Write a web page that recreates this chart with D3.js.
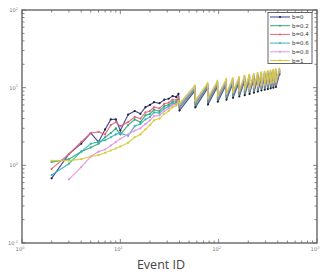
<!DOCTYPE html>
<html><head><meta charset="utf-8">
<script src="https://cdn.jsdelivr.net/npm/d3@7"></script>
<style>body{margin:0;background:#fff}svg{display:block}</style>
</head><body>
<script>
const events = [2,3,4,5,6,7,8,9,10,12,14,16,18,20,22,25,28,31,34,37,39,
  40,57,58,77,78,97,98,119,120,139,140,161,162,183,184,205,206,227,228,249,250,271,272,293,294,315,316,337,338,359,360,381,382,415];
const seriesNames = ["b=0","b=0.2","b=0.4","b=0.6","b=0.8","b=1"];
const b0 = [0.68,1.4,1.9,2.6,2.0,2.9,3.9,3.9,2.8,4.5,5.0,4.6,5.6,6.0,6.5,6.3,7.0,7.2,7.8,7.6,8.3,
  5.1,9.0,5.6,9.8,6.1,10.3,6.6,10.9,7.0,11.3,7.4,11.7,7.7,12.1,8.0,12.5,8.3,12.8,8.6,13.1,8.9,13.4,9.2,13.7,9.4,13.9,9.6,14.1,9.8,14.4,10.0,14.6,10.2,14.9];
const b02 = [1.1,1.2,1.5,1.7,1.9,2.3,2.6,3.0,2.5,3.3,3.9,3.6,4.4,4.6,5.2,5.0,5.8,6.0,6.6,6.5,7.2,
  5.5,9.4,6.0,10.2,6.6,10.8,7.1,11.3,7.5,11.7,7.9,12.2,8.3,12.6,8.6,13.0,8.9,13.3,9.2,13.7,9.5,14.0,9.8,14.3,10.0,14.5,10.3,14.7,10.5,15.0,10.7,15.2,10.9,15.5];
const b04 = [0.9,1.4,2.0,2.6,2.7,2.5,3.3,3.6,3.2,3.6,4.2,4.0,4.8,5.0,5.6,5.4,6.2,6.4,7.0,6.9,7.6,
  5.7,9.7,6.3,10.5,6.9,11.1,7.4,11.7,7.8,12.1,8.2,12.6,8.6,13.0,8.9,13.4,9.2,13.75,9.5,14.1,9.8,14.4,10.1,14.7,10.4,14.95,10.6,15.2,10.8,15.45,11.0,15.7,11.2,16.0];
const b06 = [0.75,1.05,1.5,1.9,2.0,2.1,2.3,2.5,2.6,2.4,3.2,3.4,3.9,4.2,4.8,4.7,5.4,5.7,6.3,6.2,6.9,
  5.9,9.9,6.5,10.7,7.1,11.3,7.6,11.9,8.0,12.3,8.4,12.9,8.8,13.3,9.1,13.7,9.4,14.0,9.8,14.4,10.1,14.7,10.4,15.0,10.6,15.2,10.9,15.5,11.1,15.8,11.3,16.0,11.5,16.3];
const b08 = [null,0.66,0.95,1.3,1.5,1.6,1.8,2.0,2.2,2.5,2.8,3.0,3.4,3.8,4.3,4.4,5.0,5.4,6.0,6.1,6.7,
  6.1,10.2,6.7,11.0,7.3,11.7,7.8,12.3,8.3,12.7,8.7,13.2,9.1,13.7,9.4,14.1,9.7,14.4,10.1,14.8,10.4,15.1,10.7,15.4,10.9,15.7,11.2,16.0,11.4,16.2,11.6,16.5,11.8,16.8];
const b1 = [1.15,1.15,1.2,1.3,1.35,1.45,1.55,1.65,1.75,1.95,2.3,2.5,2.9,3.3,3.8,4.0,4.6,5.0,5.6,5.9,6.5,
  6.3,10.6,6.9,11.4,7.5,12.1,8.0,12.8,8.5,13.2,8.9,13.7,9.3,14.2,9.7,14.6,10.0,15.0,10.4,15.4,10.7,15.7,11.0,16.0,11.3,16.3,11.5,16.6,11.7,16.9,11.9,17.2,12.2,17.6];
const seriesValues = [b0,b02,b04,b06,b08,b1];
const colors = ["#3a3a9a","#34a878","#e06878","#38b4b4","#e494e4","#d4cc38"];
const xTickExp = [0,1,2,3];
const yTickExp = [-1,0,1,2];
const xLabel = "Event ID";

const W = 321, H = 272;
const L = 22, R = 317, T = 10, B = 243;
const svg = d3.select("body").append("svg").attr("width", W).attr("height", H);
const x = d3.scaleLog().domain([1, 1000]).range([L, R]);
const y = d3.scaleLog().domain([0.1, 100]).range([B, T]);

svg.append("rect").attr("x", L).attr("y", T).attr("width", R - L).attr("height", B - T).attr("fill", "#fff");

// data lines
const line = d3.line().defined(d => d[1] != null).x(d => x(d[0])).y(d => y(d[1]));
seriesValues.forEach((vals, i) => {
  const pts = events.map((e, j) => [e, vals[j]]);
  svg.append("path").datum(pts).attr("d", line).attr("fill", "none")
    .attr("stroke", colors[i]).attr("stroke-width", 1.2).attr("opacity", 0.9);
  svg.append("g").selectAll("circle").data(pts.filter(d => d[1] != null)).join("circle")
    .attr("cx", d => x(d[0])).attr("cy", d => y(d[1])).attr("r", 1.1)
    .attr("fill", i === 0 ? "#222" : colors[i]);
});

// ticks (inward, all sides)
const axisCol = "#666";
const major = v => Math.abs(Math.log10(v) - Math.round(Math.log10(v))) < 1e-9;
const xt = x.ticks(), yt = y.ticks();
const tg = svg.append("g").attr("stroke", axisCol).attr("stroke-width", 0.8);
xt.forEach(v => {
  const len = major(v) ? 4 : 2.5, px = x(v);
  tg.append("line").attr("x1", px).attr("x2", px).attr("y1", B).attr("y2", B - len);
  tg.append("line").attr("x1", px).attr("x2", px).attr("y1", T).attr("y2", T + len);
});
yt.forEach(v => {
  const len = major(v) ? 4 : 2.5, py = y(v);
  tg.append("line").attr("x1", L).attr("x2", L + len).attr("y1", py).attr("y2", py);
  tg.append("line").attr("x1", R).attr("x2", R - len).attr("y1", py).attr("y2", py);
});
svg.append("rect").attr("x", L).attr("y", T).attr("width", R - L).attr("height", B - T)
  .attr("fill", "none").attr("stroke", axisCol).attr("stroke-width", 1.4);

// tick labels
const lab = (g, ex) => {
  g.append("tspan").text("10");
  g.append("tspan").attr("dy", -2.5).attr("font-size", 3.5).text(ex);
};
xTickExp.forEach(ex => {
  const t = svg.append("text").attr("x", x(Math.pow(10, ex)) - 2).attr("y", 251)
    .attr("font-family", "DejaVu Sans").attr("font-size", 5.2).attr("fill", "#777").attr("text-anchor", "middle");
  lab(t, ex);
});
yTickExp.forEach(ex => {
  const t = svg.append("text").attr("x", 18).attr("y", y(Math.pow(10, ex)) + 2)
    .attr("font-family", "DejaVu Sans").attr("font-size", 5.2).attr("fill", "#777").attr("text-anchor", "end");
  lab(t, ex);
});

svg.append("text").attr("x", 161).attr("y", 269).attr("text-anchor", "middle")
  .attr("font-family", "Open Sans").attr("font-size", 12.5).attr("fill", "#444").text(xLabel);

// legend
const lg = svg.append("g");
lg.append("rect").attr("x", 268).attr("y", 12.5).attr("width", 44).attr("height", 51)
  .attr("fill", "#fff").attr("stroke", "#555").attr("stroke-width", 0.9);
seriesNames.forEach((n, i) => {
  const yy = 17 + i * 8.7;
  lg.append("line").attr("x1", 270).attr("x2", 290).attr("y1", yy).attr("y2", yy)
    .attr("stroke", colors[i]).attr("stroke-width", 1);
  lg.append("circle").attr("cx", 280).attr("cy", yy).attr("r", 1).attr("fill", i === 0 ? "#222" : colors[i]);
  lg.append("text").attr("x", 292).attr("y", yy + 2).attr("font-family", "DejaVu Sans")
    .attr("font-size", 5.5).attr("fill", "#333").text(n);
});
</script>
</body></html>
